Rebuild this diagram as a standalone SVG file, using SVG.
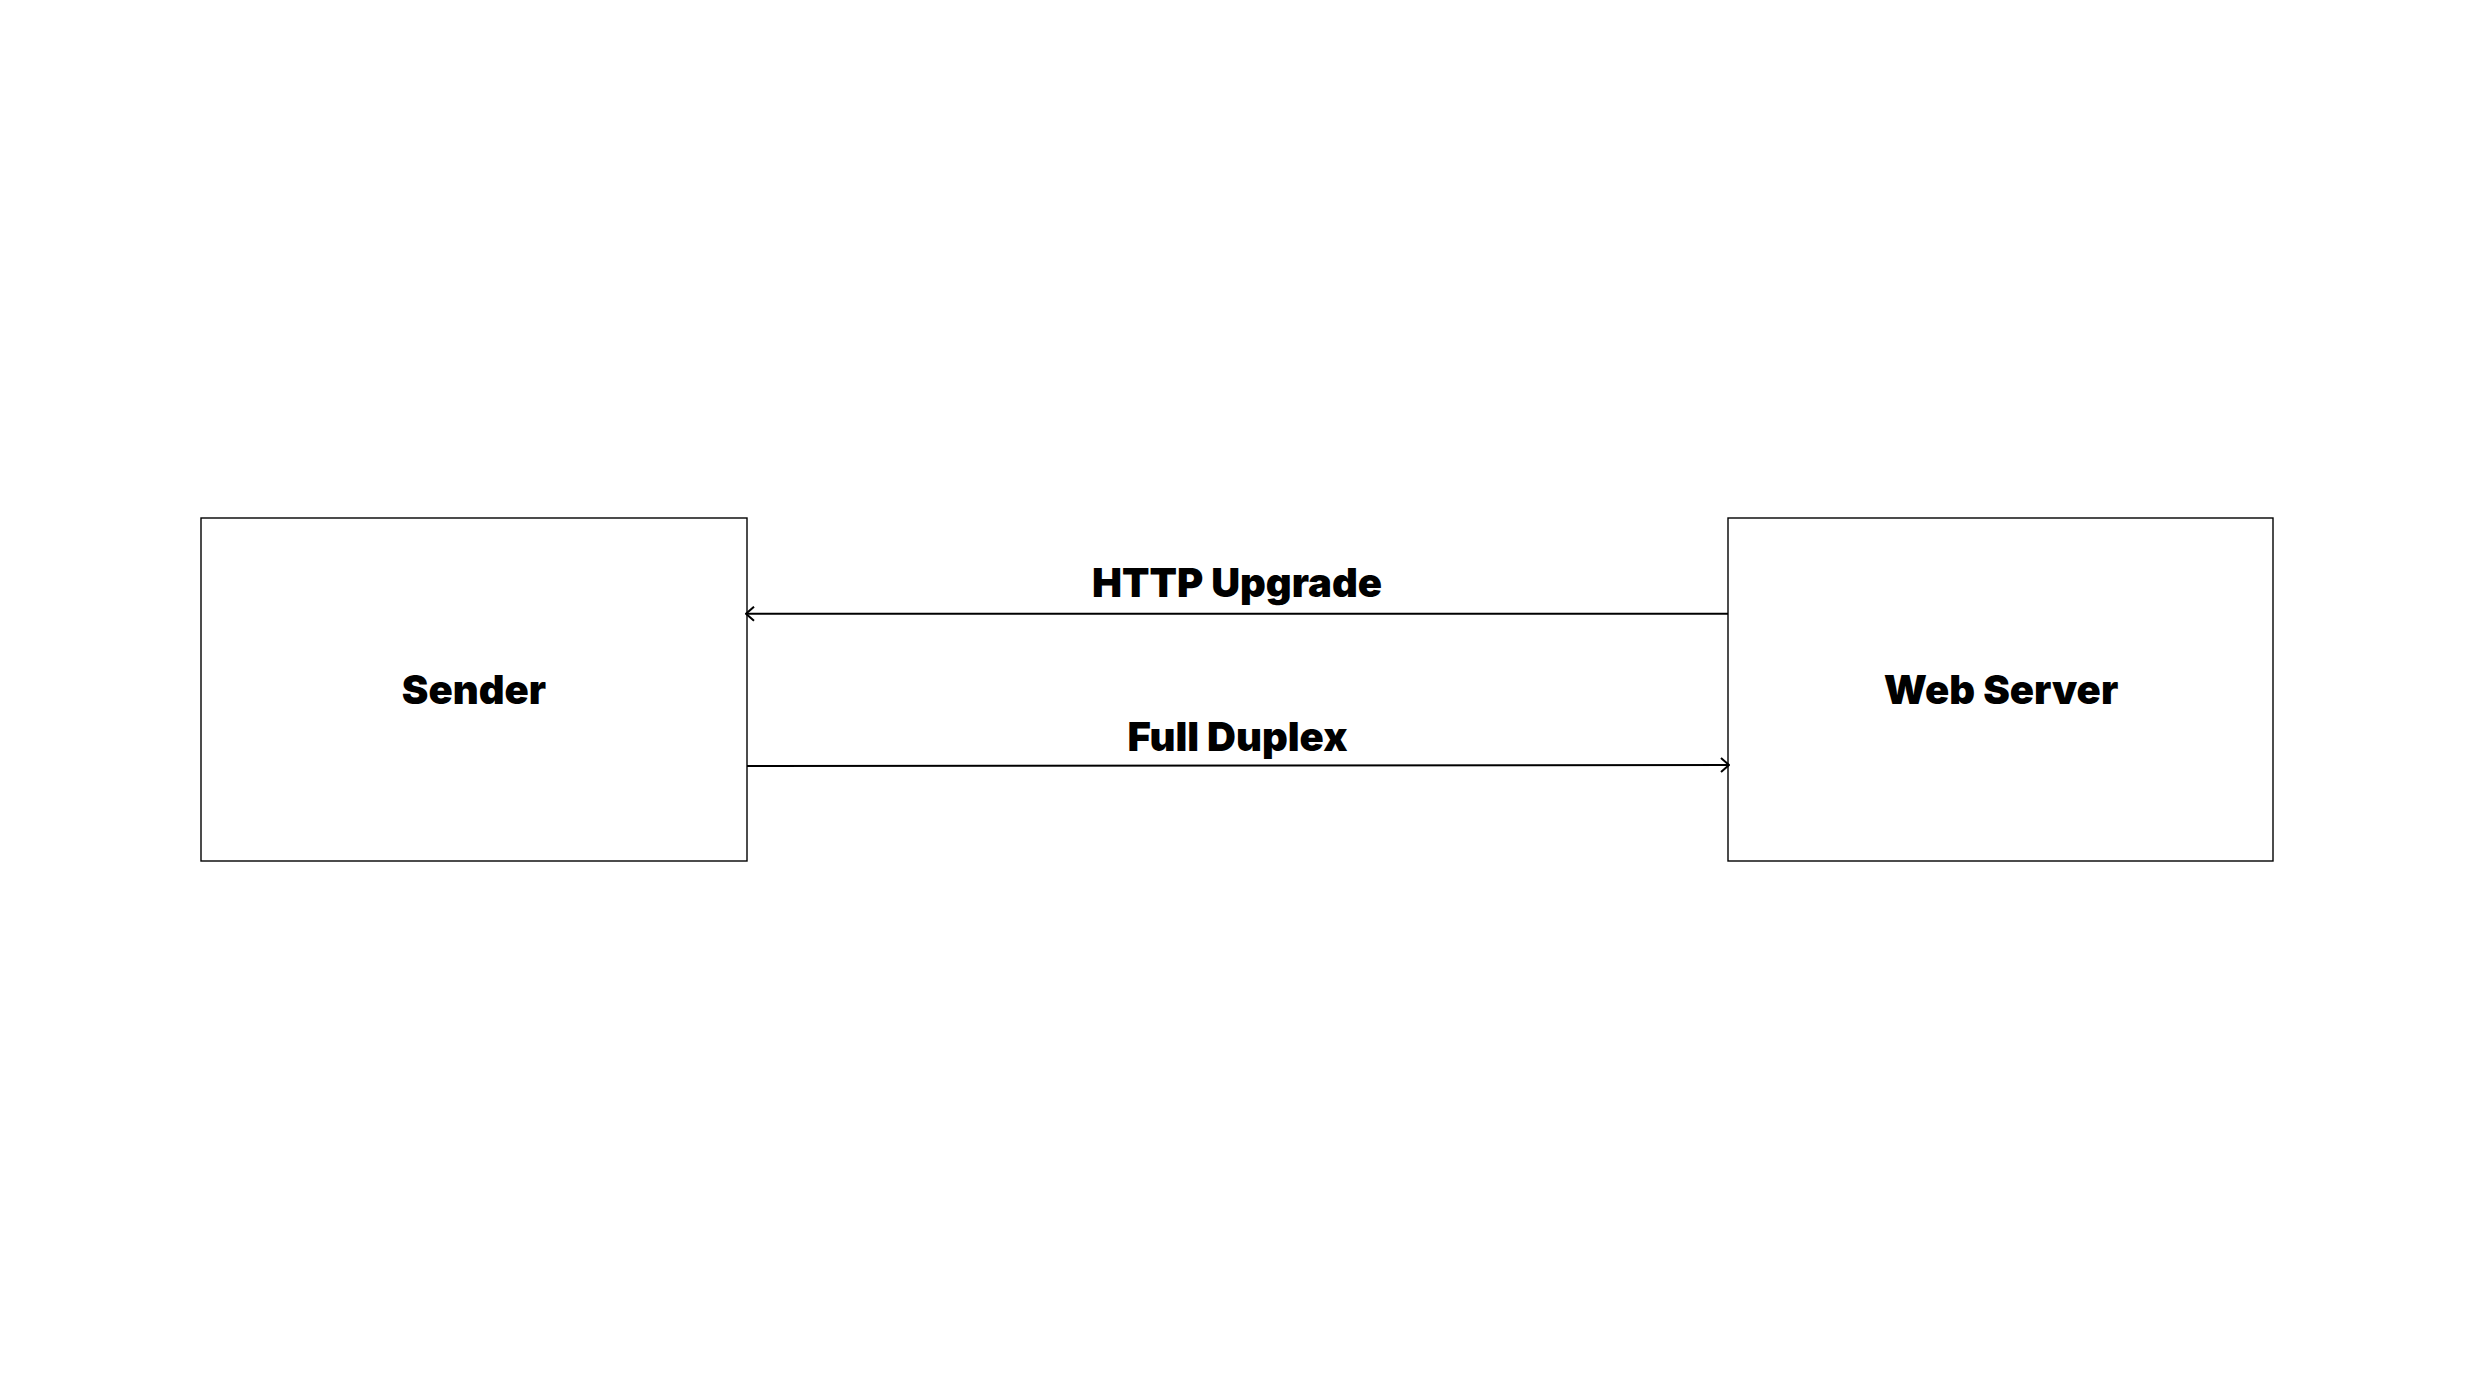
<svg xmlns="http://www.w3.org/2000/svg" width="2475" height="1380" viewBox="0 0 2475 1380">
<defs>
<style>
.box{fill:#ffffff;stroke:#000000;stroke-width:1.4}
.lbl{font-family:Inter,"Open Sans","Liberation Sans",sans-serif;font-weight:900;font-size:40px;fill:#000000;text-anchor:middle}
.conn{fill:none;stroke:#000000;stroke-width:2}
</style>
<marker id="arr" viewBox="0 0 10 16" refX="9" refY="8" markerWidth="10" markerHeight="16" markerUnits="userSpaceOnUse" orient="auto">
<path d="M1,1 L9,8 L1,15" fill="none" stroke="#000000" stroke-width="2"/>
</marker>
</defs>
<rect width="2475" height="1380" fill="#ffffff"/>
<g id="sender">
<rect class="box" x="201" y="518" width="546" height="343"/>
<text class="lbl" x="474" y="704">Sender</text>
</g>
<g id="web-server">
<rect class="box" x="1728" y="518" width="545" height="343"/>
<text class="lbl" x="2001" y="704">Web Server</text>
</g>
<g id="connectors">
<line class="conn" x1="1728" y1="613.7" x2="746" y2="613.7" marker-end="url(#arr)"/>
<text class="lbl" x="1237" y="597">HTTP Upgrade</text>
<line class="conn" x1="747" y1="766" x2="1729" y2="765" marker-end="url(#arr)"/>
<text class="lbl" x="1237.5" y="750.7">Full Duplex</text>
</g>
</svg>
